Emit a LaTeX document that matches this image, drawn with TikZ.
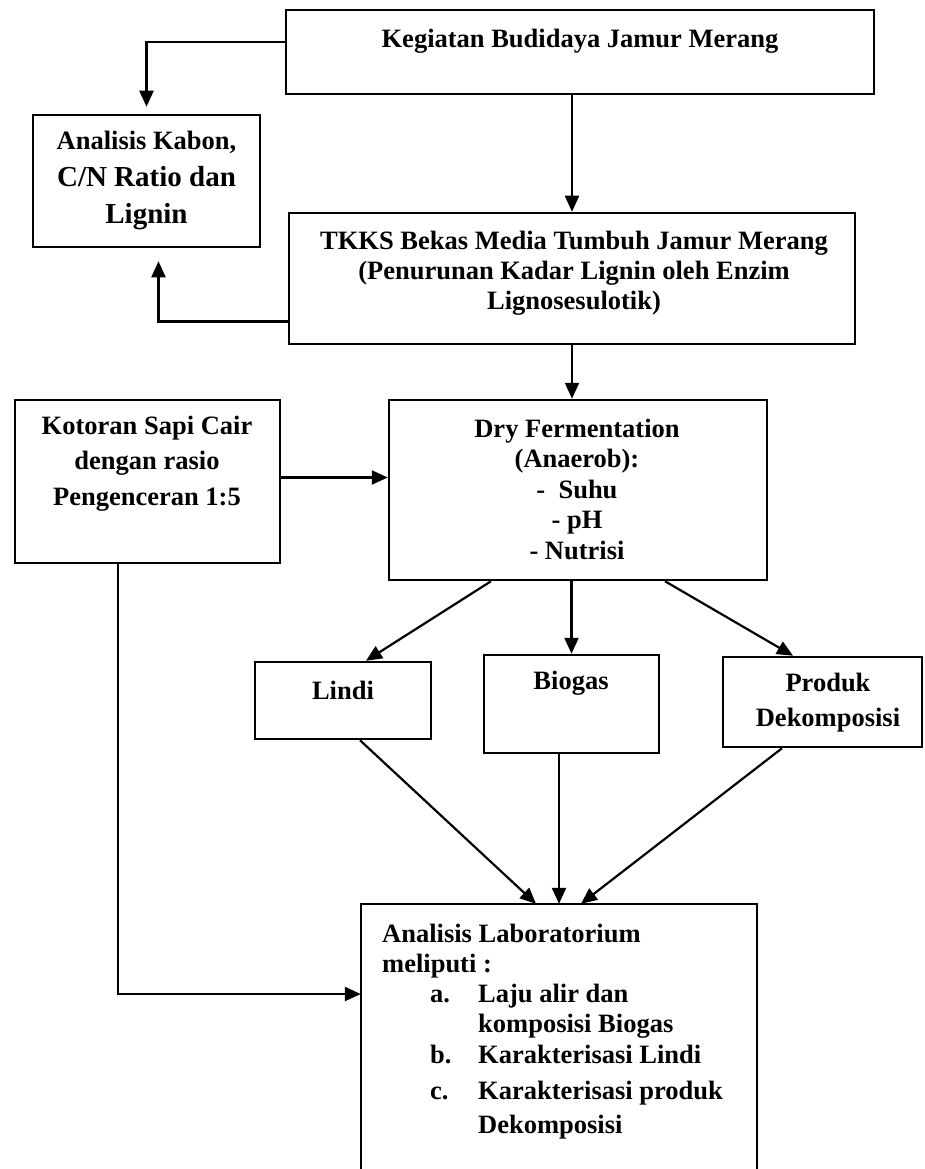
\documentclass[tikz,border=0pt]{standalone}
\usepackage{fontspec}
\setmainfont{Liberation Serif}
\usetikzlibrary{arrows.meta,calc}
\begin{document}
\begin{tikzpicture}[x=1pt,y=-1pt,
  box/.style={draw,line width=2.5pt,inner sep=0pt},
  arr/.style={line width=2.2pt,-{Triangle[length=16pt,width=14pt]}},
  txt/.style={font=\bfseries\fontsize{26.5}{30}\selectfont,align=center,inner sep=0pt},
  ltxt/.style={font=\bfseries\fontsize{26.5}{30}\selectfont,inner sep=0pt,anchor=base west},
]
\useasboundingbox (0,0) rectangle (925,1169);
% boxes
\node[box,minimum width=588pt,minimum height=84pt] (b1) at (580,52) {};
\node[box,minimum width=227pt,minimum height=132pt] (an) at (146.5,181) {};
\node[box,minimum width=566pt,minimum height=131pt] (tk) at (572,278.5) {};
\node[box,minimum width=265pt,minimum height=163pt] (ko) at (147.5,481.5) {};
\node[box,minimum width=378pt,minimum height=180pt] (dry) at (578,490) {};
\node[box,minimum width=176pt,minimum height=77pt] (li) at (343,700.5) {};
\node[box,minimum width=175pt,minimum height=98pt] (bio) at (571.5,704) {};
\node[box,minimum width=199pt,minimum height=90pt] (pr) at (822.5,702) {};
\node[inner sep=0pt,minimum width=396pt,minimum height=265pt] (lab) at (559,1036.5) {};
\draw[line width=2.5pt] (lab.south west) -- (lab.north west) -- (lab.north east) -- (lab.south east);
% texts
\node[txt] (tb1) at (580,41) {Kegiatan Budidaya Jamur Merang};
\node[txt,font=\bfseries\fontsize{29}{37}\selectfont] (tan) at (146.5,181)
  {{\fontsize{26.5}{37}\selectfont Analisis Kabon,}\\C/N Ratio dan\\Lignin};
\node[txt] (ttk) at (574,273) {TKKS Bekas Media Tumbuh Jamur Merang\\(Penurunan Kadar Lignin oleh Enzim\\Lignosesulotik)};
\node[txt,font=\bfseries\fontsize{26.5}{35.5}\selectfont] (tko) at (147,463.5) {Kotoran Sapi Cair\\dengan rasio\\Pengenceran 1:5};
\node[txt,font=\bfseries\fontsize{26.5}{30.5}\selectfont] (tdry) at (577,489) {Dry Fermentation\\(Anaerob):\\-\ \ Suhu\\- pH\\- Nutrisi};
\node[txt] (tli) at (343,690) {Lindi};
\node[txt] (tbio) at (571,683) {Biogas};
\node[txt,font=\bfseries\fontsize{26.5}{35}\selectfont] (tpr) at (828,702.5) {Produk\\Dekomposisi};
\node[ltxt] (l1) at (382,942) {Analisis Laboratorium};
\node[ltxt] (l2) at (382,972) {meliputi :};
\node[ltxt] (la) at (430,1002) {a.};
\node[ltxt] (l3) at (478,1002) {Laju alir dan};
\node[ltxt] (l4) at (478,1032) {komposisi Biogas};
\node[ltxt] (lb) at (430,1063) {b.};
\node[ltxt] (l5) at (478,1063) {Karakterisasi Lindi};
\node[ltxt] (lc) at (430,1099) {c.};
\node[ltxt] (l6) at (478,1099) {Karakterisasi produk};
\node[ltxt] (l7) at (478,1133) {Dekomposisi};
% connectors
\draw[arr] (b1.south -| tk.north) -- (tk.north);
\draw[arr] ([yshift=10pt]b1.west) -| ([yshift=7pt]an.north);
\draw[arr] ([yshift=-43pt]tk.west) -| ([xshift=12pt,yshift=-13pt]an.south);
\draw[arr] (tk.south) -- (tk.south |- dry.north);
\draw[arr] ([yshift=4pt]ko.east) -- ([yshift=4pt]ko.east -| dry.west);
\draw[arr] ([xshift=-29.5pt]ko.south) |- ([yshift=42.5pt]lab.west);
\draw[arr] ([xshift=-87pt]dry.south) -- ([xshift=23pt]li.north);
\draw[arr] (dry.south -| bio.north) -- (bio.north);
\draw[arr] ([xshift=87pt]dry.south) -- ([xshift=-29.5pt]pr.north);
\draw[arr] ([xshift=17pt]li.south) -- ([xshift=-23pt]lab.north);
\draw[arr] (bio.south -| lab.north) -- (lab.north);
\draw[arr] ([xshift=-40.5pt]pr.south) -- ([xshift=22pt]lab.north);
\end{tikzpicture}
\end{document}
